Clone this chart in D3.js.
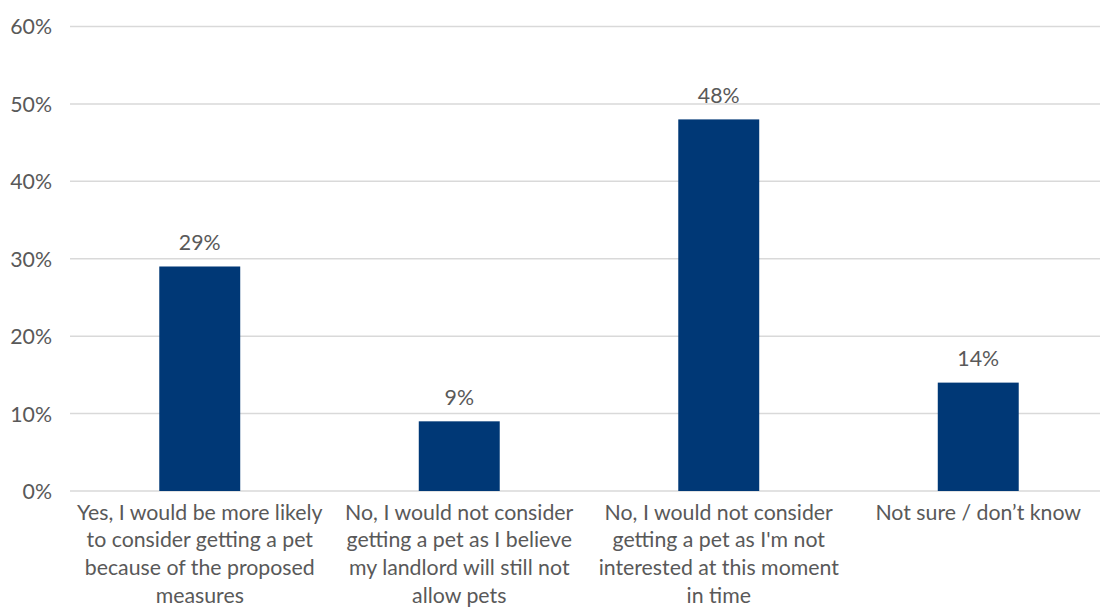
<!DOCTYPE html>
<html>
<head>
<meta charset="utf-8">
<script src="https://cdn.jsdelivr.net/npm/d3@7"></script>
<style>
  html, body { margin: 0; padding: 0; background: #fff; }
  svg { display: block; }
  text { font-family: Lato, "Noto Sans", sans-serif; fill: #595959; }
</style>
</head>
<body>
<svg id="chart" width="1100" height="607"></svg>
<script>
const categories = [
  ["Yes, I would be more likely", "to consider getting a pet", "because of the proposed", "measures"],
  ["No, I would not consider", "getting a pet as I believe", "my landlord will still not", "allow pets"],
  ["No, I would not consider", "getting a pet as I'm not", "interested at this moment", "in time"],
  ["Not sure / don’t know"]
];
const values = [29, 9, 48, 14];
const yTicks = [0, 10, 20, 30, 40, 50, 60];

(function () {
const svg = d3.select("#chart");
const mLeft = 70, mRight = 1108, mTop = 26.5, mBottom = 491;
const fs = 21.3;

const x = d3.scaleBand()
  .domain(d3.range(categories.length))
  .range([mLeft, mRight])
  .paddingInner(0.688)
  .paddingOuter(0.344);

const y = d3.scaleLinear().domain([0, 60]).range([mBottom, mTop]);

// gridlines
svg.append("g").selectAll("line")
  .data(yTicks)
  .join("line")
  .attr("x1", mLeft).attr("x2", 1100)
  .attr("y1", d => y(d)).attr("y2", d => y(d))
  .attr("stroke", "#d9d9d9")
  .attr("stroke-width", 1.5);

// y-axis labels
const yAxis = d3.axisLeft(y).tickValues(yTicks).tickFormat(d => d + "%").tickSize(0).tickPadding(0);
const yg = svg.append("g").attr("transform", "translate(52,0)").call(yAxis);
yg.select(".domain").remove();
yg.selectAll("text")
  .attr("font-size", fs)
  .attr("font-family", "Lato, 'Noto Sans', sans-serif")
  .attr("fill", "#595959")
  .attr("dy", "0.35em");

// bars
svg.append("g").selectAll("rect")
  .data(values)
  .join("rect")
  .attr("x", (d, i) => x(i))
  .attr("width", x.bandwidth())
  .attr("y", d => y(d))
  .attr("height", d => mBottom - y(d))
  .attr("fill", "#003876");

// value labels
svg.append("g").selectAll("text")
  .data(values)
  .join("text")
  .attr("x", (d, i) => x(i) + x.bandwidth() / 2)
  .attr("y", d => y(d) - 16.5)
  .attr("text-anchor", "middle")
  .attr("font-size", fs)
  .text(d => d + "%");

// category labels
const cg = svg.append("g").selectAll("text")
  .data(categories)
  .join("text")
  .attr("text-anchor", "middle")
  .attr("font-size", fs);
cg.each(function(lines, i) {
  const t = d3.select(this);
  lines.forEach((ln, j) => {
    t.append("tspan")
      .attr("x", x(i) + x.bandwidth() / 2)
      .attr("y", 519.5 + j * 27.8)
      .text(ln);
  });
});
})();
</script>
</body>
</html>
